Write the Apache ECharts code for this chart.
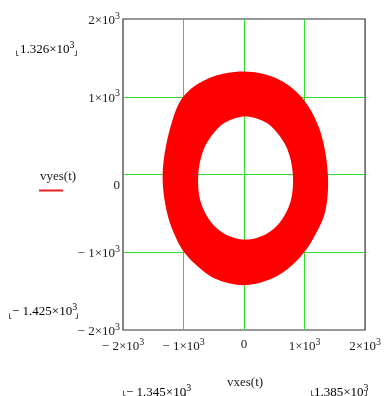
<!DOCTYPE html>
<html>
<head>
<meta charset="utf-8">
<script src="https://cdn.jsdelivr.net/npm/echarts@6/dist/echarts.min.js"></script>
<style>
  html, body { margin: 0; padding: 0; background: #fff; }
  #chart { width: 384px; height: 396px; }
</style>
</head>
<body>
<div id="chart"></div>
<script>
// axis ticks (both axes run from -2000 to 2000 in steps of 1000)
const xTicks = [-2000, -1000, 0, 1000, 2000];
const yTicks = [-2000, -1000, 0, 1000, 2000];

// outer edge of the (vxes, vyes) band, clockwise from the top
const outerX = [0, 533, 941, 1242, 1385, 1340, 1186, 997, 724, 451, 0, -474, -719, -992, -1155, -1275, -1345, -1221, -1003, -583];
const outerY = [1326, 1239, 1003, 594, 0, -481, -761, -997, -1213, -1342, -1425, -1342, -1213, -997, -761, -481, 0, 594, 1003, 1239];

// inner edge (the hole), clockwise from the top
const innerX = [25, 337, 482, 711, 807, 768, 597, 376, 25, -326, -547, -718, -757, -661, -432, -287];
const innerY = [745, 680, 594, 335, 0, -352, -610, -761, -837, -761, -610, -352, 0, 335, 594, 680];

// range markers shown outside the plot
const yRangeMax = '1.326';
const yRangeMin = '\u2212 1.425';
const xRangeMin = '\u2212 1.345';
const xRangeMax = '1.385';

const SERIF = '"Liberation Serif", "DejaVu Serif", serif';
const TXT = '#1a1a1a';

const rich = {
  m: { fontFamily: SERIF, fontSize: 13, color: TXT, lineHeight: 16, verticalAlign: 'bottom' },
  s: { fontFamily: SERIF, fontSize: 10, color: TXT, lineHeight: 16, verticalAlign: 'top', padding: [0, 0, 9, 0] },
  z: { fontFamily: SERIF, fontSize: 13, color: TXT, lineHeight: 16 },
  zy: { fontFamily: SERIF, fontSize: 13, color: TXT, lineHeight: 16, padding: [22, 0, 0, 0] }
};

function sci(v, zeroStyle) {
  if (v === 0) return '{' + zeroStyle + '|0}';
  const k = Math.abs(v) / 1000;
  return '{m|' + (v < 0 ? '\u2212 ' : '') + k + '\u00d710}{s|3}';
}

function rangeText(mant) {
  return '{m|' + mant + '\u00d710}{s|3}';
}

// closed smooth path through screen points (centripetal Catmull-Rom as cubic Beziers)
function closedPath(pts) {
  const n = pts.length;
  const dt = (a, b) => Math.max(1e-6, Math.sqrt(Math.hypot(b[0] - a[0], b[1] - a[1])));
  let d = 'M' + pts[0][0] + ' ' + pts[0][1];
  for (let i = 0; i < n; i++) {
    const p0 = pts[(i - 1 + n) % n], p1 = pts[i], p2 = pts[(i + 1) % n], p3 = pts[(i + 2) % n];
    const t0 = dt(p0, p1), t1 = dt(p1, p2), t2 = dt(p2, p3);
    const c = [], e = [];
    for (let k = 0; k < 2; k++) {
      const m1 = (p1[k] - p0[k]) / t0 - (p2[k] - p0[k]) / (t0 + t1) + (p2[k] - p1[k]) / t1;
      const m2 = (p2[k] - p1[k]) / t1 - (p3[k] - p1[k]) / (t1 + t2) + (p3[k] - p2[k]) / t2;
      c[k] = p1[k] + m1 * t1 / 3;
      e[k] = p2[k] - m2 * t1 / 3;
    }
    d += ' C' + c[0] + ' ' + c[1] + ' ' + e[0] + ' ' + e[1] + ' ' + p2[0] + ' ' + p2[1];
  }
  return d + ' Z';
}

// small corner brackets around a range marker
function brackets(x1, x2, yb) {
  const st = { stroke: '#555', lineWidth: 1 };
  return [
    { type: 'polyline', shape: { points: [[x1, yb - 5], [x1, yb], [x1 + 2, yb]] }, style: st },
    { type: 'polyline', shape: { points: [[x2, yb - 5], [x2, yb], [x2 - 2, yb]] }, style: st }
  ];
}

const chart = echarts.init(document.getElementById('chart'), null, { renderer: 'canvas' });

const gridLine = ['rgba(0,0,0,0)', '#2ddc2d', '#2ddc2d', '#2ddc2d', 'rgba(0,0,0,0)'];

chart.setOption({
  animation: false,
  backgroundColor: '#fff',
  grid: { left: 123, top: 19, width: 244, height: 311, show: true, borderColor: '#333', borderWidth: 1.2, backgroundColor: 'transparent' },
  xAxis: {
    type: 'value', min: xTicks[0], max: xTicks[xTicks.length - 1], interval: 1000,
    axisLine: { show: false }, axisTick: { show: false },
    splitLine: { show: true, lineStyle: { color: gridLine, width: 1 } },
    axisLabel: { margin: 7, formatter: v => sci(v, 'z'), rich: rich, hideOverlap: false }
  },
  yAxis: {
    type: 'value', min: yTicks[0], max: yTicks[yTicks.length - 1], interval: 1000,
    axisLine: { show: false }, axisTick: { show: false },
    splitLine: { show: true, lineStyle: { color: gridLine, width: 1 } },
    axisLabel: { margin: 3, formatter: v => sci(v, 'zy'), rich: rich, hideOverlap: false }
  },
  series: [{
    type: 'custom',
    name: 'vyes(t)',
    data: [0],
    renderItem: function (params, api) {
      const outer = outerX.map((x, i) => api.coord([x, outerY[i]]));
      const inner = innerX.map((x, i) => api.coord([x, innerY[i]])).reverse();
      return {
        type: 'path',
        shape: { pathData: closedPath(outer) + ' ' + closedPath(inner) },
        style: { fill: '#ff0000', stroke: null }
      };
    }
  }],
  graphic: [
    { type: 'text', left: 20, top: 40, style: { text: rangeText(yRangeMax), rich: rich } },
    { type: 'text', left: 12, top: 302, style: { text: rangeText(yRangeMin), rich: rich } },
    { type: 'text', left: 126, top: 383, style: { text: rangeText(xRangeMin), rich: rich } },
    { type: 'text', left: 314, top: 383, style: { text: rangeText(xRangeMax), rich: rich } },
    { type: 'text', left: 40, top: 170, style: { text: 'vyes(t)', font: '13px ' + SERIF, fill: TXT } },
    { type: 'line', shape: { x1: 39, y1: 190.5, x2: 63, y2: 190.5 }, style: { stroke: '#e52020', lineWidth: 2 } },
    { type: 'text', left: 227, top: 376, style: { text: 'vxes(t)', font: '13px ' + SERIF, fill: TXT } }
  ].concat(brackets(16.5, 76.5, 55.5), brackets(9.5, 77.5, 318.5), brackets(123.5, 185.5, 395.5), brackets(311.5, 366.5, 395.5))
});
</script>
</body>
</html>
